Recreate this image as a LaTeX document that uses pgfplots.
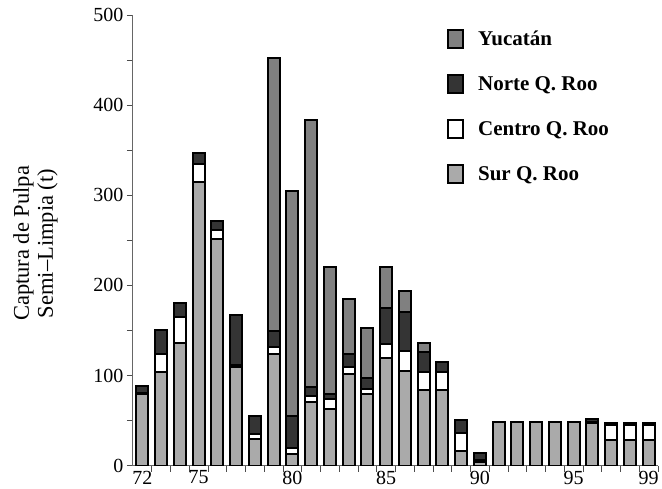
\documentclass[border=0pt]{standalone}
\usepackage{fontspec}
\setmainfont{Liberation Serif}
\usepackage{pgfplots}
\usepackage{pgfplotstable}
\pgfplotsset{compat=1.18}
\definecolor{surgray}{RGB}{170,170,170}
\definecolor{nortegray}{RGB}{52,52,52}
\definecolor{yucgray}{RGB}{128,128,128}

% year, Sur, Centro, Norte, Yucatan (t)
\pgfplotstableread{
year sur centro norte yuc
72 79 2 7 0
73 104 20 26 0
74 136 29 15 0
75 315 20 12 0
76 251 11 9 0
77 110 2 55 0
78 30 5 20 0
79 124 8 17 303
80 13 7 35 250
81 71 6 10 296
82 63 11 6 140
83 102 8 14 61
84 79 6 12 56
85 120 15 40 45
86 105 22 43 24
87 84 20 22 10
88 84 20 11 0
89 16 20 15 0
90 4 2 8 0
91 48 0 0 0
92 48 0 0 0
93 48 0 0 0
94 48 0 0 0
95 48 0 0 0
96 47 2 3 0
97 29 16 2 0
98 29 16 2 0
99 29 16 2 0
}\captura

\begin{document}
\begin{tikzpicture}
\begin{axis}[
    scale only axis,
    width=525pt, height=450.7pt,
    ybar stacked,
    bar width=12pt,
    xmin=71.5, xmax=99.5,
    ymin=0, ymax=500,
    axis x line*=bottom,
    axis y line*=left,
    axis line style={-, draw=black!60, line width=1pt},
    xtick={72.5,73.5,...,99.5},
    xticklabels={},
    extra x ticks={72,75,80,85,90,95,99},
    extra x tick style={tick style={draw=none}},
    ytick={0,100,...,500},
    minor ytick={50,150,...,450},
    tick align=outside,
    major tick length=6pt,
    minor tick length=6pt,
    tick style={draw=black!70, line width=0.8pt},
    /pgf/number format/assume math mode=true,
    xticklabel style={font=\fontsize{20}{22}\selectfont, inner sep=0pt, yshift=1pt},
    yticklabel style={font=\fontsize{20}{22}\selectfont},
    ylabel={Captura de Pulpa\\Semi--Limpia (t)},
    ylabel style={font=\fontsize{22.5}{24}\selectfont, align=center,
        at={(axis description cs:-0.186,0.493)}, anchor=center},
    reverse legend,
    legend style={draw=none, fill=none, at={(0.596,0.970)}, anchor=north west,
        font=\fontsize{21}{23}\selectfont\bfseries,
        row sep=25pt, inner sep=0pt},
    legend cell align=left,
    legend image code/.code={\draw[#1, line width=2pt] (1pt,-9pt) rectangle (16pt,9pt);
        \path (0pt,0pt) (28pt,0pt);},
    every axis plot/.append style={draw=black, line width=2pt},
]
\addplot[fill=surgray] table[x=year, y=sur] {\captura};
\addplot[fill=white] table[x=year, y=centro] {\captura};
\addplot[fill=nortegray] table[x=year, y=norte] {\captura};
\addplot[fill=yucgray] table[x=year, y=yuc] {\captura};
\legend{Sur Q. Roo, Centro Q. Roo, Norte Q. Roo, Yucatán}
\end{axis}
\pgfresetboundingbox
\path[use as bounding box] (-133pt,-22.3pt) rectangle (529pt,465.7pt);
\end{tikzpicture}
\end{document}
